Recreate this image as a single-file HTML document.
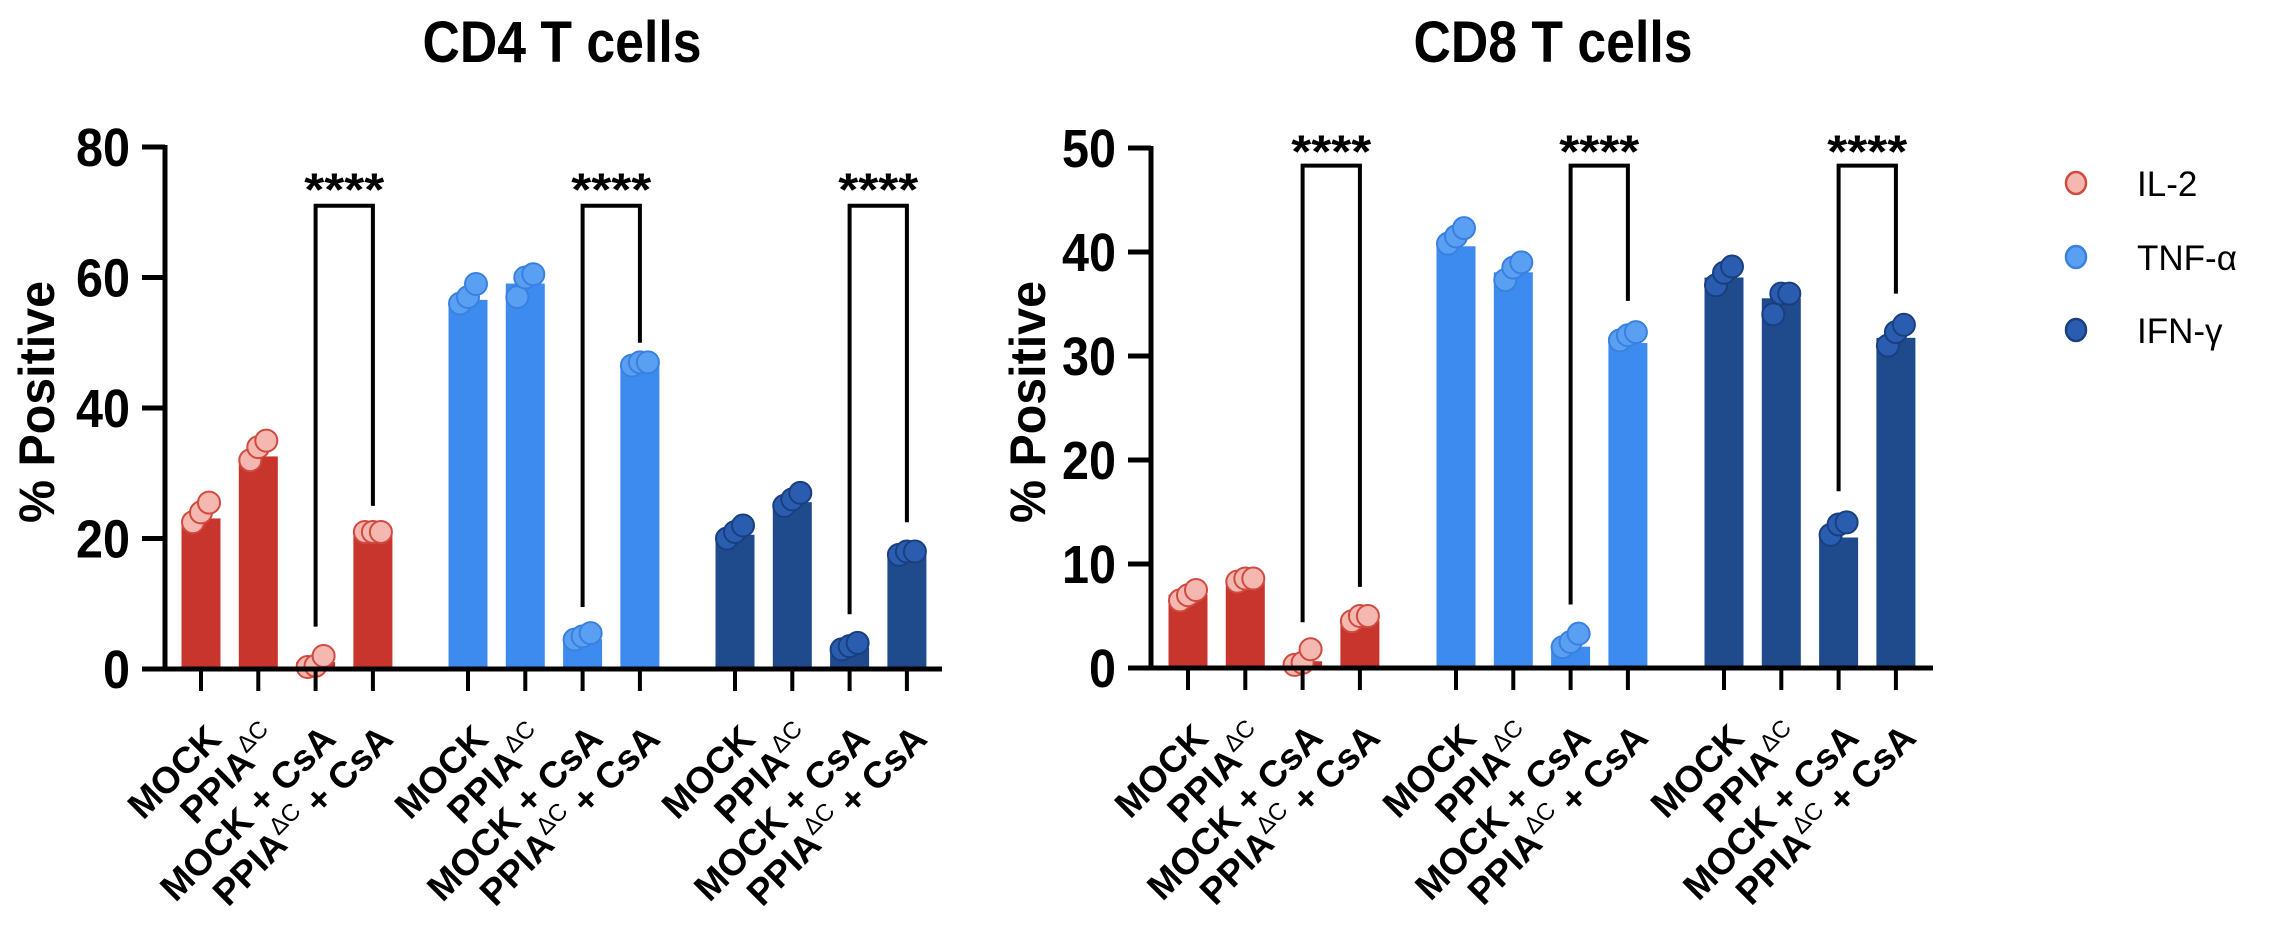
<!DOCTYPE html>
<html><head><meta charset="utf-8"><style>
html,body{margin:0;padding:0;background:#fff;}
svg{display:block;font-family:"Liberation Sans",Arial,sans-serif;}
</style></head><body>
<svg id="chart" width="2272" height="928" viewBox="0 0 2272 928">
<text x="562" y="62" font-size="58" font-weight="bold" text-anchor="middle" textLength="279" lengthAdjust="spacingAndGlyphs">CD4 T cells</text>
<text x="1553" y="62" font-size="58" font-weight="bold" text-anchor="middle" textLength="279" lengthAdjust="spacingAndGlyphs">CD8 T cells</text>
<g>
<g><ellipse cx="2076" cy="183" rx="10" ry="11" fill="#f4b8b0" stroke="#d04a40" stroke-width="2.5"/><text x="2137" y="196" font-size="35">IL-2</text></g>
<g><ellipse cx="2076" cy="257" rx="10" ry="11" fill="#5aa0f2" stroke="#3a80e0" stroke-width="2.5"/><text x="2137" y="270" font-size="35">TNF-α</text></g>
<g><ellipse cx="2076" cy="330" rx="10" ry="11" fill="#2a5db0" stroke="#1a3f80" stroke-width="2.5"/><text x="2137" y="343" font-size="35">IFN-γ</text></g>
</g>
</svg>
<script>
const categories = ["MOCK","PPIA\u0394C","MOCK + CsA","PPIA\u0394C + CsA"];
const cytokines = ["IL-2","TNF-α","IFN-γ"];
const cd4Means = [23,32.5,1,21, 56.5,59,4.5,46.5, 20.5,25.5,3.2,17.5];
const cd4Points = [[22.5,24,25.5],[32,34,35],[0.3,0.5,2],[21,21,21],[56,57,59],[57,60,60.5],[4.5,5,5.5],[46.5,47,47],[20,21,22],[25,26,27],[3,3.5,4],[17.5,18,18]];
const cd4Ticks = [0,20,40,60,80];
const cd4BracketLeft = [6.5,9.5,8.4];
const cd4BracketRight = [25,50,22.5];
const cd4BracketTop = 71;
const cd8Means = [7,8.2,0.6,4.5, 40.5,38,2,31.2, 37.5,35.5,12.5,31.7];
const cd8Points = [[6.5,7,7.5],[8.3,8.6,8.6],[0.3,0.5,1.8],[4.5,5,5],[40.8,41.5,42.3],[37.3,38.5,39],[2,2.5,3.3],[31.5,32,32.3],[36.8,38,38.6],[34,36,36],[12.8,13.8,14],[31,32.3,33]];
const cd8Ticks = [0,10,20,30,40,50];
const cd8BracketLeft = [4.4,6.1,17];
const cd8BracketRight = [7.8,35.3,36];
const cd8BracketTop = 48.3;

const NS="http://www.w3.org/2000/svg";
const svg=document.getElementById('chart');
const barCol=["#c8352c","#3d8bef","#1f4a8c"];
const dotFill=["#f4b8b0","#5aa0f2","#2a5db0"];
const dotStroke=["#d04a40","#3a80e0","#1a3f80"];
function mk(tag,attrs,parent){const e=document.createElementNS(NS,tag);for(const k in attrs)e.setAttribute(k,attrs[k]);(parent||svg).appendChild(e);return e;}

function drawPanel(cfg){
  const g=mk('g',{});
  
  
  const yMax=cfg.ticks[cfg.ticks.length-1];
  const y=v=>cfg.y0-(v/yMax)*(cfg.y0-cfg.yTop);
  const x=i=>cfg.x0+Math.floor(i/4)*cfg.groupStep+(i%4)*cfg.step;
  cfg.means.forEach((m,i)=>{
    const c=Math.floor(i/4);
    const r=mk('rect',{x:x(i)-19,y:y(m),width:38,height:cfg.y0-y(m),fill:barCol[c],stroke:barCol[c],'stroke-width':1},g);
    
    
  });
  const offs=[-8,0,8];
  cfg.points.forEach((pts,i)=>{
    const c=Math.floor(i/4);
    pts.forEach((v,k)=>{
      const d=mk('circle',{cx:x(i)+offs[k],cy:y(v),r:11,fill:dotFill[c],stroke:dotStroke[c],'stroke-width':2},g);
      
      
    });
  });
  const ya=mk('line',{x1:cfg.axisX,y1:cfg.yTop-2,x2:cfg.axisX,y2:cfg.y0,stroke:'#000','stroke-width':5},g);
  
  
  const xa=mk('line',{x1:cfg.axisX-23,y1:cfg.y0,x2:cfg.xEnd,y2:cfg.y0,stroke:'#000','stroke-width':5},g);
  
  
  cfg.ticks.forEach(t=>{
    mk('line',{x1:cfg.axisX-23,y1:y(t),x2:cfg.axisX,y2:y(t),stroke:'#000','stroke-width':5},g);
    const s=String(t);
    const tl=mk('text',{x:cfg.axisX-35,y:y(t)+19,'font-size':54,'font-weight':'bold','text-anchor':'end',textLength:27*s.length,lengthAdjust:'spacingAndGlyphs'},g);
    tl.textContent=s;
    
    
  });
  const yt=mk('text',{x:0,y:0,'font-size':50,'font-weight':'bold','text-anchor':'middle',textLength:242,lengthAdjust:'spacingAndGlyphs',transform:`translate(${cfg.titleX},402) rotate(-90)`},g);
  yt.textContent='% Positive';
  
  
  for(let i=0;i<12;i++){
    mk('line',{x1:x(i),y1:cfg.y0,x2:x(i),y2:cfg.y0+22,stroke:'#000','stroke-width':4},g);
    const cat=categories[i%4];
    const t=mk('text',{x:0,y:0,'font-size':37,'font-weight':'bold','text-anchor':'end',transform:`translate(${x(i)+22},${cfg.y0+72}) rotate(-45)`},g);
    const parts=cat.split('\u0394C');
    t.appendChild(document.createTextNode(parts[0]));
    if(parts.length>1){
      const s=mk('tspan',{'font-size':24,'font-weight':'normal',dy:-15},t);s.textContent='\u0394C';
      const r=mk('tspan',{dy:15},t);r.textContent=parts[1];
    }
    
    
  }
  for(let c=0;c<3;c++){
    const xl=x(c*4+2),xr=x(c*4+3),yt2=y(cfg.bTop);
    const p=mk('path',{d:`M${xl},${y(cfg.bLeft[c])} V${yt2} H${xr} V${y(cfg.bRight[c])}`,fill:'none',stroke:'#000','stroke-width':4},g);
    
    
    const s=mk('text',{x:(xl+xr)/2,y:yt2+cfg.starDy,'font-size':46,'font-weight':'bold','text-anchor':'middle',textLength:80,lengthAdjust:'spacingAndGlyphs'},g);
    s.textContent='****';
    
    
  }
}
drawPanel({name:'cd4-panel',means:cd4Means,points:cd4Points,ticks:cd4Ticks,bLeft:cd4BracketLeft,bRight:cd4BracketRight,bTop:cd4BracketTop,
  x0:201,step:57.3,groupStep:267,axisX:165,xEnd:942,y0:669,yTop:147,titleX:54,starDy:0});
drawPanel({name:'cd8-panel',means:cd8Means,points:cd8Points,ticks:cd8Ticks,bLeft:cd8BracketLeft,bRight:cd8BracketRight,bTop:cd8BracketTop,
  x0:1188,step:57.3,groupStep:268,axisX:1151,xEnd:1933,y0:668,yTop:148,titleX:1045,starDy:2});
</script>
</body></html>
